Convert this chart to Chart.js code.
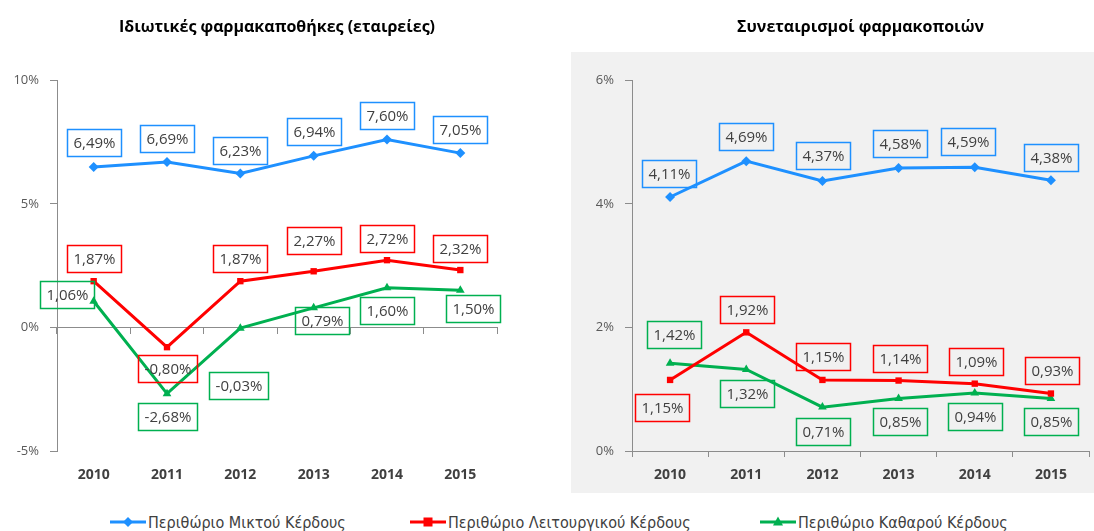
<!DOCTYPE html>
<html><head><meta charset="utf-8">
<script src="https://cdn.jsdelivr.net/npm/chart.js@4.4.1/dist/chart.umd.min.js"></script>
<style>
html,body{margin:0;padding:0;background:#fff;}
body{width:1094px;height:531px;position:relative;overflow:hidden;}
#bg{position:absolute;left:571px;top:52px;width:523px;height:441px;background:#f1f1f1;}
#c1wrap{position:absolute;left:0;top:0;width:540px;height:500px;}
#c2wrap{position:absolute;left:560px;top:0;width:534px;height:500px;}
#legend{position:absolute;top:511px;left:0;width:1094px;height:22px;font-family:'Liberation Sans Narrow','DejaVu Sans Condensed',sans-serif;font-size:16px;color:#404040;}
.item{position:absolute;top:0;height:22px;display:flex;align-items:center;white-space:nowrap;}
.item svg{margin-right:2px;}
</style></head>
<body>
<div id="bg"></div>
<div id="c1wrap"><canvas id="c1"></canvas></div>
<div id="c2wrap"><canvas id="c2"></canvas></div>
<div id="legend"></div>
<script>
// ---- data ----
const years = ['2010', '2011', '2012', '2013', '2014', '2015'];
const seriesNames = ['Περιθώριο Μικτού Κέρδους', 'Περιθώριο Λειτουργικού Κέρδους', 'Περιθώριο Καθαρού Κέρδους'];
const titleLeft = 'Ιδιωτικές φαρμακαποθήκες (εταιρείες)';
const titleRight = 'Συνεταιρισμοί φαρμακοποιών';
const leftGross = [6.49, 6.69, 6.23, 6.94, 7.60, 7.05];
const leftOperating = [1.87, -0.80, 1.87, 2.27, 2.72, 2.32];
const leftNet = [1.06, -2.68, -0.03, 0.79, 1.60, 1.50];
const rightGross = [4.11, 4.69, 4.37, 4.58, 4.59, 4.38];
const rightOperating = [1.15, 1.92, 1.15, 1.14, 1.09, 0.93];
const rightNet = [1.42, 1.32, 0.71, 0.85, 0.94, 0.85];
const leftTicks = [-5, 0, 5, 10];
const rightTicks = [0, 2, 4, 6];

// ---- styles ----
const colors = ['#1e90ff', '#ff0000', '#00b050'];
const pointStyles = ['rectRot', 'rect', 'triangle'];
const FONT = "'Open Sans', 'Noto Sans', sans-serif";
const AXIS = '#8c8c8c';
// label box placement (pixel offsets from the point)
const leftLabelPos = [
  [[0,-24],[0,-24],[0,-23],[0,-24],[0,-24],[0,-24]],
  [[0,-23],[0,21],[0,-23],[0,-31],[0,-22],[0,-22]],
  [[-27,-7],[0,23],[-2,57],[8,13],[0,23],[13,18]]
];
const rightLabelPos = [
  [[-1,-24],[0,-25],[1,-25],[1,-24],[-7,-26],[0,-23]],
  [[-8,28],[1,-23],[1,-23],[1,-22],[1,-22],[1,-23]],
  [[4,-29],[1,24],[1,24],[1,23],[0,24],[0,23]]
];

const fmt = v => v.toFixed(2).replace('.', ',') + '%';

const boxLabels = {
  id: 'boxLabels',
  afterDatasetsDraw(chart, args, opts) {
    const ctx = chart.ctx;
    ctx.save();
    ctx.font = opts.font;
    ctx.textAlign = 'center';
    ctx.textBaseline = 'middle';
    chart.data.datasets.forEach((ds, i) => {
      const meta = chart.getDatasetMeta(i);
      meta.data.forEach((pt, j) => {
        const off = opts.offsets[i][j];
        const txt = fmt(ds.data[j]);
        const w = Math.round(ctx.measureText(txt).width + 2 * opts.padX);
        const h = opts.height;
        const cx = pt.x + off[0], cy = pt.y + off[1];
        const x0 = Math.round(cx - w / 2), y0 = Math.round(cy - h / 2);
        ctx.lineWidth = 1.5;
        ctx.strokeStyle = ds.borderColor;
        ctx.strokeRect(x0 + 0.5, y0 + 0.5, w, h);
        ctx.fillStyle = '#404040';
        ctx.fillText(txt, x0 + w / 2 + 0.5, y0 + h / 2 + 1);
      });
    });
    ctx.restore();
  }
};

function makeDatasets(arrs) {
  return arrs.map((d, i) => ({
    label: seriesNames[i],
    data: d,
    borderColor: colors[i],
    backgroundColor: colors[i],
    borderWidth: 3,
    pointStyle: pointStyles[i],
    pointRadius: i === 1 ? 4.5 : 5,
    pointBorderWidth: 0,
    tension: 0,
    clip: false
  }));
}

function yScale(min, max, ticks, width) {
  return {
    min: min, max: max,
    afterBuildTicks: s => { s.ticks = ticks.map(v => ({ value: v })); },
    afterFit: s => { s.width = width; s.paddingTop = 0; s.paddingBottom = 0; },
    ticks: { callback: v => v + '%', color: '#595959', font: { family: FONT, size: 13 }, padding: 11 },
    grid: { display: true, drawOnChartArea: false, drawTicks: true, tickLength: 7, color: AXIS },
    border: { display: true, color: AXIS, width: 1 }
  };
}

const titleOpts = (text) => ({
  display: true, fullSize: false, text: text, color: '#000',
  font: { size: 16, weight: 'bold', family: FONT },
  padding: { top: 18, bottom: 43 }
});

Chart.defaults.font.family = FONT;
Chart.defaults.animation = false;

new Chart(document.getElementById('c1'), {
  type: 'line',
  data: { labels: years, datasets: makeDatasets([leftGross, leftOperating, leftNet]) },
  plugins: [boxLabels],
  options: {
    responsive: true, maintainAspectRatio: false,
    layout: { padding: { left: 0, top: 0, right: 43, bottom: 0 } },
    plugins: {
      legend: { display: false }, tooltip: { enabled: false },
      title: titleOpts(titleLeft),
      boxLabels: { offsets: leftLabelPos, font: '15px ' + FONT, padX: 6, height: 27 }
    },
    scales: {
      x: {
        type: 'category', position: 'bottom', offset: true,
        afterFit: s => { s.height = 49; s.paddingLeft = 0; s.paddingRight = 0; },
        ticks: { color: '#404040', font: { family: FONT, size: 14, weight: 'bold' }, padding: 16, maxRotation: 0 },
        grid: { display: false, drawTicks: false },
        border: { display: false }
      },
      x2: {
        type: 'category', axis: 'x', position: { y: 0 }, offset: true,
        afterFit: s => { s.paddingLeft = 0; s.paddingRight = 0; },
        ticks: { display: false },
        grid: { display: true, drawOnChartArea: false, drawTicks: true, tickLength: 6, offset: true, color: AXIS },
        border: { display: true, color: AXIS, width: 1 }
      },
      y: yScale(-5, 10, leftTicks, 57)
    }
  }
});

new Chart(document.getElementById('c2'), {
  type: 'line',
  data: { labels: years, datasets: makeDatasets([rightGross, rightOperating, rightNet]) },
  plugins: [boxLabels],
  options: {
    responsive: true, maintainAspectRatio: false,
    layout: { padding: { left: 0, top: 0, right: 2, bottom: 0 } },
    plugins: {
      legend: { display: false }, tooltip: { enabled: false },
      title: titleOpts(titleRight),
      boxLabels: { offsets: rightLabelPos, font: '15px ' + FONT, padX: 6, height: 27 }
    },
    scales: {
      x: {
        type: 'category', position: 'bottom', offset: true,
        afterFit: s => { s.height = 49; s.paddingLeft = 0; s.paddingRight = 0; },
        ticks: { color: '#404040', font: { family: FONT, size: 14, weight: 'bold' }, padding: 10, maxRotation: 0 },
        grid: { display: true, drawOnChartArea: false, drawTicks: true, tickLength: 6, offset: true, color: AXIS },
        border: { display: true, color: AXIS, width: 1 }
      },
      y: yScale(0, 6, rightTicks, 72)
    }
  }
});

// ---- HTML legend ----
const legendX = [110, 410, 760];
const markerSvg = (i) => {
  const c = colors[i];
  let shape;
  if (i === 0) shape = `<polygon points="18,5 23,10 18,15 13,10" fill="${c}"/>`;
  else if (i === 1) shape = `<rect x="13.5" y="5.5" width="9" height="9" fill="${c}"/>`;
  else shape = `<polygon points="18,4.5 23,13.5 13,13.5" fill="${c}"/>`;
  return `<svg width="36" height="20" viewBox="0 0 36 20"><line x1="0" y1="10" x2="36" y2="10" stroke="${c}" stroke-width="3"/>${shape}</svg>`;
};
const legend = document.getElementById('legend');
seriesNames.forEach((n, i) => {
  const d = document.createElement('div');
  d.className = 'item';
  d.style.left = legendX[i] + 'px';
  d.innerHTML = markerSvg(i) + '<span>' + n + '</span>';
  legend.appendChild(d);
});
</script>
</body></html>
